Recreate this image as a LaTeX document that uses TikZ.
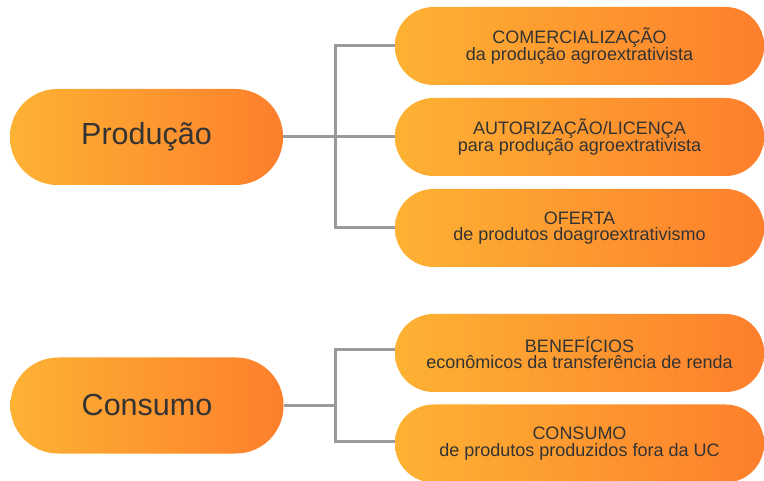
\documentclass[tikz,border=0pt]{standalone}
\usepackage{fontspec}
\setmainfont{Liberation Sans}
\definecolor{oL}{HTML}{FDB233}
\definecolor{oR}{HTML}{FD7F2C}
\definecolor{txt}{HTML}{333333}
\definecolor{conn}{HTML}{9A9A9A}
\begin{document}
\begin{tikzpicture}[x=1pt,y=-1pt,
  bigbox/.style={rectangle, rounded corners=47.5pt, minimum width=273pt, minimum height=96pt,
    left color=oL, right color=oR, draw=none, text=txt, inner sep=0pt,
    font=\fontsize{30.5}{34}\selectfont},
  smallbox/.style={rectangle, rounded corners=38.5pt, minimum width=369pt, minimum height=78pt,
    left color=oL, right color=oR, draw=none, text=txt, inner sep=0pt, align=center,
    font=\fontsize{18}{16.5}\selectfont},
  link/.style={draw=conn, line width=3pt}]
\useasboundingbox (0,0) rectangle (764,481);
\begin{scope}
\clip (0,0) rectangle (764,481);
\node[bigbox] (prod) at (146.5,137) {Produção};
\node[bigbox] (cons) at (147,405.5) {Consumo};
\node[smallbox] (r1) at (579.5,46) {COMERCIALIZAÇÃO\\da produção agroextrativista};
\node[smallbox] (r2) at (579.5,137) {AUTORIZAÇÃO/LICENÇA\\para produção agroextrativista};
\node[smallbox] (r3) at (579.5,228) {OFERTA\\de produtos doagroextrativismo};
\node[smallbox] (r4) at (579.5,353) {BENEFÍCIOS\\econômicos da transferência de renda};
\node[smallbox] (r5) at (579.5,443.5) {CONSUMO\\de produtos produzidos fora da UC};
\end{scope}
\coordinate (j1) at (335,137);
\coordinate (j2) at (335,405.5);
\draw[link] (prod.east) -- (j1);
\draw[link] (r1.west) -| (j1) |- (r3.west);
\draw[link] (j1) -- (r2.west);
\draw[link] (cons.east) -- (j2);
\draw[link] ([yshift=3pt]r4.west) -| (j2) |- ([yshift=2pt]r5.west);
\end{tikzpicture}
\end{document}
